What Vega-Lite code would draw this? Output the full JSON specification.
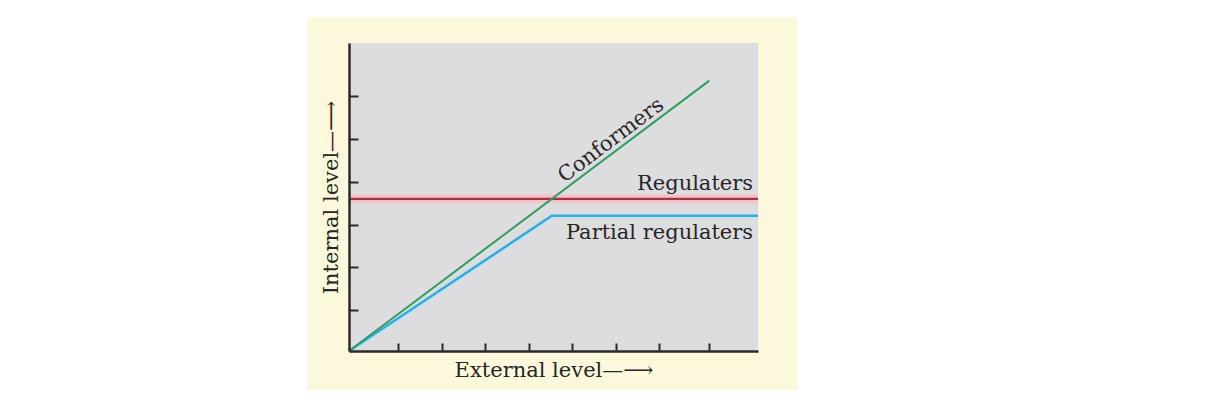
{
  "$schema": "https://vega.github.io/schema/vega-lite/v6.json",
  "autosize": {"type": "none"},
  "width": 409,
  "height": 308,
  "padding": {"left": 349, "top": 43, "right": 450, "bottom": 55},
  "background": "#ffffff",
  "config": {
    "view": {"stroke": null},
    "font": "DejaVu Serif"
  },
  "datasets": {
    "panel": [{"name": "panel"}],
    "lines": [
      {"series": "Partial regulaters", "x": 0, "y": 0},
      {"series": "Partial regulaters", "x": 49.6, "y": 43.9},
      {"series": "Partial regulaters", "x": 100, "y": 43.9},
      {"series": "Regulaters", "x": 0, "y": 49.4},
      {"series": "Regulaters", "x": 100, "y": 49.4},
      {"series": "Conformers", "x": 0, "y": 0},
      {"series": "Conformers", "x": 88.1, "y": 87.8}
    ],
    "labels": [
      {"label": "Conformers", "x": 65.0, "y": 66.75},
      {"label": "Regulaters", "x": 98.8, "y": 52.3},
      {"label": "Partial regulaters", "x": 98.8, "y": 36.3}
    ]
  },
  "layer": [
    {
      "data": {"name": "panel"},
      "mark": {"type": "rect", "color": "#fcf8dc", "clip": false},
      "encoding": {
        "x": {"datum": -10.3, "type": "quantitative", "title": "External level—⟶", "scale": {"domain": [0, 100], "nice": false, "zero": false}},
        "x2": {"datum": 109.5},
        "y": {"datum": -12.7, "type": "quantitative", "title": "Internal level—⟶", "scale": {"domain": [0, 100], "nice": false, "zero": false}},
        "y2": {"datum": 108.4}
      }
    },
    {
      "data": {"name": "panel"},
      "mark": {"type": "rect", "color": "#dddde0", "clip": false},
      "encoding": {
        "x": {"datum": 0, "type": "quantitative", "title": "External level—⟶", "scale": {"domain": [0, 100], "nice": false, "zero": false}},
        "x2": {"datum": 100},
        "y": {"datum": 0, "type": "quantitative", "title": "Internal level—⟶", "scale": {"domain": [0, 100], "nice": false, "zero": false}},
        "y2": {"datum": 100}
      }
    },
    {
      "data": {"name": "lines"},
      "transform": [{"filter": "datum.series === 'Regulaters'"}],
      "mark": {"type": "line", "clip": false, "color": "#f2c4ca", "strokeWidth": 9},
      "encoding": {
        "x": {"field": "x", "type": "quantitative", "title": "External level—⟶", "scale": {"domain": [0, 100], "nice": false, "zero": false}},
        "y": {"field": "y", "type": "quantitative", "title": "Internal level—⟶", "scale": {"domain": [0, 100], "nice": false, "zero": false}}
      }
    },
    {
      "data": {"name": "lines"},
      "transform": [{"filter": "datum.series === 'Partial regulaters'"}],
      "mark": {"type": "line", "clip": false, "color": "#c9e3ee", "strokeWidth": 6},
      "encoding": {
        "x": {"field": "x", "type": "quantitative", "title": "External level—⟶", "scale": {"domain": [0, 100], "nice": false, "zero": false}},
        "y": {"field": "y", "type": "quantitative", "title": "Internal level—⟶", "scale": {"domain": [0, 100], "nice": false, "zero": false}},
        "order": {"field": "x", "type": "quantitative"}
      }
    },
    {
      "data": {"name": "lines"},
      "mark": {"type": "line", "clip": false},
      "encoding": {
        "x": {
          "field": "x", "type": "quantitative", "title": "External level—⟶",
          "scale": {"domain": [0, 100], "nice": false, "zero": false},
          "axis": {
            "values": [12.05, 22.7, 33.3, 44.0, 54.6, 65.2, 75.9, 88.1],
            "labels": false, "tickSize": -8, "tickWidth": 2, "tickColor": "#2a2a2a",
            "domainColor": "#2a2a2a", "domainWidth": 2.5, "grid": false,
            "titleFont": "DejaVu Serif", "titleFontSize": 21, "titleFontWeight": "normal",
            "titleColor": "#262626", "titlePadding": 7, "zindex": 2
          }
        },
        "y": {
          "field": "y", "type": "quantitative", "title": "Internal level—⟶",
          "scale": {"domain": [0, 100], "nice": false, "zero": false},
          "axis": {
            "values": [13.3, 27.2, 41.0, 55.0, 68.8, 82.8],
            "labels": false, "tickSize": -9, "tickWidth": 2, "tickColor": "#2a2a2a",
            "domainColor": "#2a2a2a", "domainWidth": 2.5, "grid": false,
            "titleFont": "DejaVu Serif", "titleFontSize": 21, "titleFontWeight": "normal",
            "titleColor": "#262626", "titlePadding": 7, "zindex": 2
          }
        },
        "color": {
          "field": "series", "type": "nominal",
          "scale": {"domain": ["Conformers", "Regulaters", "Partial regulaters"], "range": ["#2f9e5c", "#a33445", "#3aa8d8"]},
          "legend": null
        },
        "strokeWidth": {
          "field": "series", "type": "nominal",
          "scale": {"domain": ["Conformers", "Regulaters", "Partial regulaters"], "range": [2, 2.5, 2]},
          "legend": null
        },
        "order": {"field": "x", "type": "quantitative"}
      }
    },
    {
      "data": {"name": "labels"},
      "transform": [{"filter": "datum.label === 'Conformers'"}],
      "mark": {"type": "text", "angle": -37, "align": "center", "baseline": "alphabetic", "font": "DejaVu Serif", "fontSize": 21, "color": "#262626", "clip": false},
      "encoding": {
        "x": {"field": "x", "type": "quantitative", "title": "External level—⟶", "scale": {"domain": [0, 100], "nice": false, "zero": false}},
        "y": {"field": "y", "type": "quantitative", "title": "Internal level—⟶", "scale": {"domain": [0, 100], "nice": false, "zero": false}},
        "text": {"field": "label"}
      }
    },
    {
      "data": {"name": "labels"},
      "transform": [{"filter": "datum.label !== 'Conformers'"}],
      "mark": {"type": "text", "align": "right", "baseline": "alphabetic", "font": "DejaVu Serif", "fontSize": 21, "color": "#262626", "clip": false},
      "encoding": {
        "x": {"field": "x", "type": "quantitative", "title": "External level—⟶", "scale": {"domain": [0, 100], "nice": false, "zero": false}},
        "y": {"field": "y", "type": "quantitative", "title": "Internal level—⟶", "scale": {"domain": [0, 100], "nice": false, "zero": false}},
        "text": {"field": "label"}
      }
    }
  ]
}
